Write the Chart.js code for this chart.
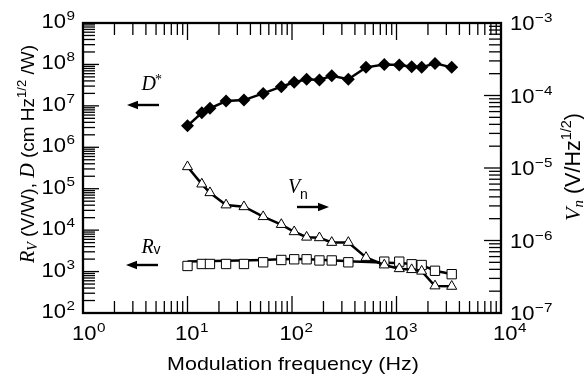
<!DOCTYPE html>
<html>
<head>
<meta charset="utf-8">
<script src="https://cdn.jsdelivr.net/npm/chart.js@4/dist/chart.umd.min.js"></script>
<style>
  html, body { margin: 0; padding: 0; background: #fff; }
  #wrap { width: 584px; height: 374px; }
</style>
</head>
<body>
<div id="wrap"><canvas id="c"></canvas></div>
<script>
"use strict";

// ── Data ─────────────────────────────────────────────────────────────────────
const FREQ    = [10, 13.7, 16.4, 23.4, 34.7, 53, 79, 105, 138, 183, 240, 346, 511, 764, 1063, 1397, 1741, 2335, 3375];
const D_STAR  = [3.3e6, 6.8e6, 8.7e6, 1.31e7, 1.38e7, 2.0e7, 2.9e7, 3.7e7, 4.4e7, 4.2e7, 5.3e7, 4.4e7, 8.5e7, 1.0e8, 9.7e7, 8.8e7, 8.5e7, 1.06e8, 8.5e7];
const V_NOISE = [1.04e-5, 6.0e-6, 4.56e-6, 3.09e-6, 2.92e-6, 2.13e-6, 1.66e-6, 1.32e-6, 1.11e-6, 1.09e-6, 9.4e-7, 9.4e-7, 5.83e-7, 4.59e-7, 4.08e-7, 3.96e-7, 3.77e-7, 2.36e-7, 2.33e-7];
const R_V     = [1365, 1525, 1525, 1525, 1525, 1675, 1905, 1980, 1980, 1855, 1855, 1675, null, 1735, 1735, 1500, 1440, 1045, 865];
// smooth curve drawn through the responsivity points
const RV_FIT_FREQ = [10, 23.4, 53, 105, 346, 764, 1741, 2335, 3375];
const RV_FIT      = [1750, 1830, 1910, 2000, 1770, 1650, 1400, 1060, 865];

// axis decades (exponents)
const X_DEC  = [0, 1, 2, 3, 4];
const Y_DEC  = [2, 3, 4, 5, 6, 7, 8, 9];
const Y2_DEC = [-7, -6, -5, -4, -3];

const SANS  = '"Liberation Sans", Arial, sans-serif';
const SERIF = '"Liberation Serif", "Times New Roman", serif';
const SX = 1.13; // horizontal stretch of the horizontal text

const pts = (xs, ys) => xs.map((f, i) => ({ x: f, y: ys[i] }));

// ── Text helpers ─────────────────────────────────────────────────────────────
function txt(ctx, s, x, y, font, sx = 1) {
  ctx.save();
  ctx.font = font;
  ctx.translate(x, y);
  ctx.scale(sx, 1);
  ctx.textAlign = "left";
  ctx.textBaseline = "alphabetic";
  ctx.fillText(s, 0, 0);
  const w = ctx.measureText(s).width * sx;
  ctx.restore();
  return w;
}
function width(ctx, s, font, sx = 1) {
  ctx.save(); ctx.font = font;
  const w = ctx.measureText(s).width * sx;
  ctx.restore();
  return w;
}
// "10" with a raised exponent; returns total width
function powLabel(ctx, e, x, y, draw = true) {
  const base = `19.5px ${SANS}`, sup = `13.5px ${SANS}`;
  const es = e < 0 ? "\u2212" + (-e) : String(e);
  const w1 = width(ctx, "10", base, SX), w2 = width(ctx, es, sup, SX);
  if (draw) {
    txt(ctx, "10", x, y, base, SX);
    txt(ctx, es, x + w1 + 0.5, y - 8, sup, SX);
  }
  return w1 + w2 + 0.5;
}
// sequence of text pieces rotated -90°, centred on (cx, cy), baseline at cx
function vertical(ctx, pieces, cx, cy) {
  let total = 0;
  pieces.forEach(p => { total += width(ctx, p.t, p.font); });
  ctx.save();
  ctx.translate(cx, cy);
  ctx.rotate(-Math.PI / 2);
  let pos = -total / 2;
  pieces.forEach(p => {
    ctx.font = p.font;
    ctx.fillText(p.t, pos, p.dy || 0);
    pos += ctx.measureText(p.t).width;
  });
  ctx.restore();
}
function arrow(ctx, x0, x1, y) {
  const dir = Math.sign(x1 - x0);
  ctx.save();
  ctx.lineWidth = 2.4;
  ctx.beginPath(); ctx.moveTo(x0, y); ctx.lineTo(x1 - dir * 8, y); ctx.stroke();
  ctx.beginPath();
  ctx.moveTo(x1, y); ctx.lineTo(x1 - dir * 11, y - 4.2); ctx.lineTo(x1 - dir * 11, y + 4.2);
  ctx.closePath(); ctx.fill();
  ctx.restore();
}

// ── Frame, inward ticks, labels ──────────────────────────────────────────────
const framePlugin = {
  id: "frame",
  afterDraw(chart) {
    const { ctx, chartArea: a, scales } = chart;
    const { x, y, y2 } = scales;
    ctx.save();
    ctx.strokeStyle = "#000";
    ctx.fillStyle = "#000";
    ctx.lineWidth = 1.3;
    const seg = (x0, y0, x1, y1) => { ctx.beginPath(); ctx.moveTo(x0, y0); ctx.lineTo(x1, y1); ctx.stroke(); };

    const eachTick = (decs, fn) => {
      decs.forEach((d, i) => {
        for (let m = 1; m <= 9; m++) {
          if (i === decs.length - 1 && m > 1) break;
          fn(m * Math.pow(10, d), m === 1);
        }
      });
    };
    eachTick(X_DEC, (v, major) => {
      const p = x.getPixelForValue(v), len = major ? 17 : 12;
      seg(p, a.bottom, p, a.bottom - len);
      seg(p, a.top, p, a.top + len);
    });
    eachTick(Y_DEC, (v, major) => {
      const p = y.getPixelForValue(v), len = major ? 16 : 12;
      seg(a.left, p, a.left + len, p);
    });
    eachTick(Y2_DEC, (v, major) => {
      const p = y2.getPixelForValue(v), len = major ? 17 : 12;
      seg(a.right, p, a.right - len, p);
    });

    ctx.lineWidth = 2.3;
    ctx.strokeRect(a.left, a.top, a.right - a.left, a.bottom - a.top);

    // tick labels
    X_DEC.forEach((d, i) => {
      const p = x.getPixelForValue(Math.pow(10, d));
      const off = i === 0 ? 11 : (i === X_DEC.length - 1 ? 8 : 12.5);
      powLabel(ctx, d, p - off, 340);
    });
    Y_DEC.forEach(d => {
      const p = y.getPixelForValue(Math.pow(10, d));
      const w = powLabel(ctx, d, 0, 0, false);
      powLabel(ctx, d, a.left - 8 - w, p + 5);
    });
    Y2_DEC.forEach(d => {
      const p = y2.getPixelForValue(Math.pow(10, d));
      powLabel(ctx, d, a.right + 9, p + 7);
    });

    // axis titles
    const tf = `19px ${SANS}`;
    const tw = width(ctx, "Modulation frequency (Hz)", tf, SX);
    txt(ctx, "Modulation frequency (Hz)", (a.left + a.right) / 2 + 1 - tw / 2, 370, tf, SX);

    const it = `italic 20px ${SERIF}`, sm = `italic 14px ${SERIF}`, sup = `13px ${SANS}`;
    vertical(ctx, [
      { t: "R", font: it },
      { t: "V", font: sm, dy: 3 },
      { t: " (V/W), ", font: tf },
      { t: "D", font: it },
      { t: " (cm Hz", font: tf },
      { t: "1/2", font: sup, dy: -8 },
      { t: " /W)", font: tf },
    ], 34, 154);
    const tf2 = `21.5px ${SANS}`;
    vertical(ctx, [
      { t: "V", font: `italic 22px ${SERIF}` },
      { t: "n", font: `italic 15px ${SERIF}`, dy: 3 },
      { t: " (V/Hz", font: tf2 },
      { t: "1/2", font: `14.5px ${SANS}`, dy: -9 },
      { t: ")", font: tf2 },
    ], 580, 167);

    // series annotations
    txt(ctx, "D", 141.5, 90, `italic 20px ${SERIF}`);
    txt(ctx, "*", 155, 84, `14px ${SERIF}`);
    arrow(ctx, 159, 127, 105);

    txt(ctx, "V", 288, 193, `italic 20px ${SERIF}`);
    txt(ctx, "n", 300, 198.5, `14px ${SANS}`);
    arrow(ctx, 297, 329, 207);

    txt(ctx, "R", 141.5, 253, `italic 20px ${SERIF}`);
    txt(ctx, "v", 153.5, 254, `14px ${SANS}`);
    arrow(ctx, 158, 126, 265);

    ctx.restore();
  },
};

// ── Chart ────────────────────────────────────────────────────────────────────
new Chart(document.getElementById("c"), {
  type: "line",
  data: {
    datasets: [
      {
        label: "D*", yAxisID: "y", data: pts(FREQ, D_STAR),
        borderColor: "#000", borderWidth: 2.5, backgroundColor: "#000",
        pointStyle: "rectRot", pointRadius: 6.5, pointBorderWidth: 0, tension: 0,
      },
      {
        label: "Vn", yAxisID: "y2", data: pts(FREQ, V_NOISE),
        borderColor: "#000", borderWidth: 2.5, pointBackgroundColor: "#fff", pointBorderColor: "#000",
        pointStyle: "triangle", pointRadius: 5.8, pointBorderWidth: 1, tension: 0,
      },
      {
        label: "Rv", yAxisID: "y", data: pts(FREQ, R_V), showLine: false,
        pointBackgroundColor: "#fff", pointBorderColor: "#000",
        pointStyle: "rect", pointRadius: 6.6, pointBorderWidth: 1,
      },
      {
        label: "Rv fit", yAxisID: "y", data: pts(RV_FIT_FREQ, RV_FIT),
        borderColor: "#000", borderWidth: 2.5, pointRadius: 0, cubicInterpolationMode: "monotone",
      },
    ],
  },
  options: {
    responsive: true,
    maintainAspectRatio: false,
    animation: false,
    events: [],
    layout: { padding: { left: 83, right: 83, top: 23, bottom: 61 } },
    plugins: { legend: { display: false }, tooltip: { enabled: false } },
    scales: {
      x:  { type: "logarithmic", min: 1, max: 1e4, display: false },
      y:  { type: "logarithmic", min: 1e2, max: 1e9, display: false },
      y2: { type: "logarithmic", min: 1e-7, max: 1e-3, display: false, position: "right" },
    },
  },
  plugins: [framePlugin],
});
</script>
</body>
</html>
